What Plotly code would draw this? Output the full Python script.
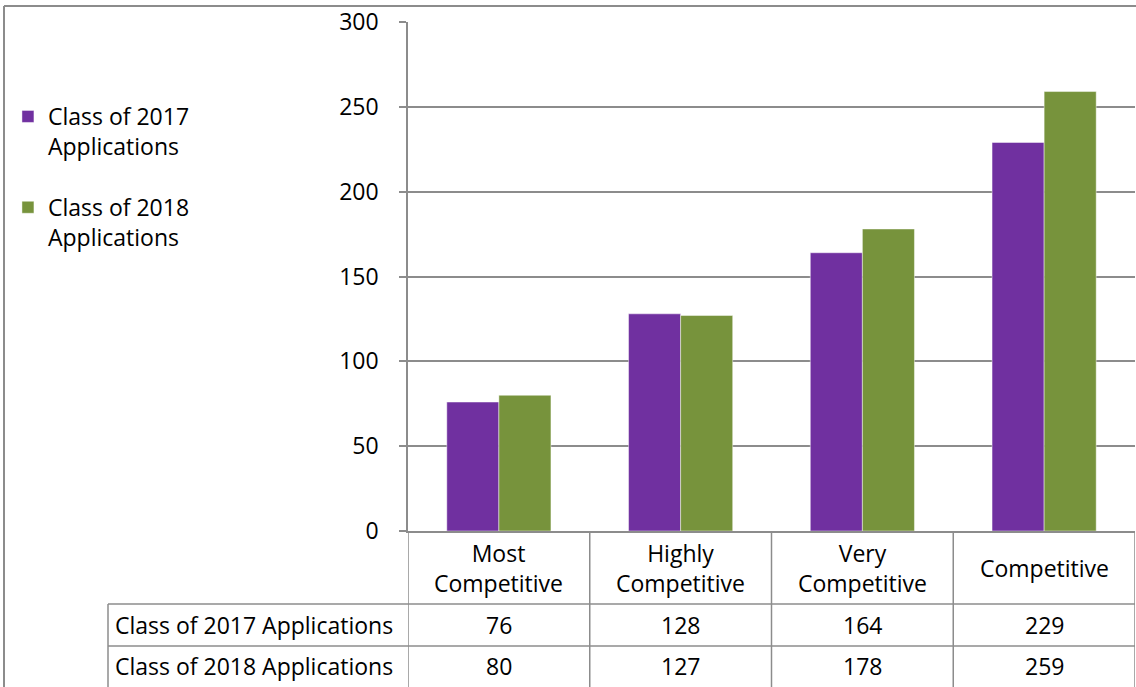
import plotly.graph_objects as go

# ---- data ----
categories = ["Most Competitive", "Highly Competitive", "Very Competitive", "Competitive"]
category_labels = ["Most<br>Competitive", "Highly<br>Competitive", "Very<br>Competitive", "Competitive"]
series_names = ["Class of 2017 Applications", "Class of 2018 Applications"]
legend_names = ["Class of 2017<br>Applications", "Class of 2018<br>Applications"]
apps_2017 = [76, 128, 164, 229]
apps_2018 = [80, 127, 178, 259]
y_ticks = [0, 50, 100, 150, 200, 250, 300]

# ---- style ----
W, H = 1136, 687
L, R, T, B = 408, 1, 22, 156
PW, PH = W - L - R, H - T - B
FONT = "Open Sans"
FS = 23
PURPLE = "#7030A0"
GREEN = "#77933C"
GRID = "#8c8c8c"
LINE_W = 1.5


def px_to_py(p):
    return (H - B - p) / PH


def px_to_px_paper(p):
    return (p - L) / PW


fig = go.Figure()
series = [apps_2017, apps_2018]
colors = [PURPLE, GREEN]
for i, (vals, col) in enumerate(zip(series, colors)):
    fig.add_trace(go.Bar(
        x=categories, y=vals, name=legend_names[i], legendgroup=f"g{i}",
        marker=dict(color=col, line=dict(color="rgba(255,255,255,0.45)", width=1)),
        hoverinfo="x+y",
    ))

shapes = []
# outer chart frame (left + top)
shapes.append(dict(type="line", xref="paper", yref="paper",
                   x0=px_to_px_paper(4), x1=px_to_px_paper(W + 2),
                   y0=px_to_py(6), y1=px_to_py(6),
                   line=dict(color=GRID, width=2)))
shapes.append(dict(type="line", xref="paper", yref="paper",
                   x0=px_to_px_paper(4), x1=px_to_px_paper(4),
                   y0=px_to_py(6), y1=px_to_py(H + 2),
                   line=dict(color=GRID, width=2)))

# data table grid
n = len(categories)
for k in range(n + 1):
    shapes.append(dict(type="line", xref="x", yref="paper",
                       x0=k - 0.5, x1=k - 0.5, y0=0, y1=px_to_py(H + 2),
                       line=dict(color=GRID, width=LINE_W)))
for p in (604, 646):
    shapes.append(dict(type="line", xref="paper", yref="paper",
                       x0=px_to_px_paper(108), x1=1,
                       y0=px_to_py(p), y1=px_to_py(p),
                       line=dict(color=GRID, width=LINE_W)))
shapes.append(dict(type="line", xref="paper", yref="paper",
                   x0=px_to_px_paper(108), x1=px_to_px_paper(108),
                   y0=px_to_py(604), y1=px_to_py(H + 2),
                   line=dict(color=GRID, width=LINE_W)))

annotations = []
for k, lab in enumerate(category_labels):
    annotations.append(dict(x=k, y=px_to_py(568), xref="x", yref="paper",
                            text=lab, showarrow=False, xanchor="center", yanchor="middle",
                            font=dict(family=FONT, size=FS, color="black")))
row_centers = [625, 666]
for r, (name, vals) in enumerate(zip(series_names, series)):
    annotations.append(dict(x=px_to_px_paper(113), y=px_to_py(row_centers[r]),
                            xref="paper", yref="paper", text=name, showarrow=False,
                            xanchor="left", yanchor="middle",
                            font=dict(family=FONT, size=FS, color="black")))
    for k, v in enumerate(vals):
        annotations.append(dict(x=k, y=px_to_py(row_centers[r]), xref="x", yref="paper",
                                text=str(v), showarrow=False, xanchor="center",
                                yanchor="middle",
                                font=dict(family=FONT, size=FS, color="black")))

fig.update_layout(
    width=W, height=H,
    margin=dict(l=L, r=R, t=T, b=B, pad=0),
    paper_bgcolor="white", plot_bgcolor="white",
    font=dict(family=FONT, size=FS, color="black"),
    barmode="group", bargap=0.427, bargroupgap=0,
    showlegend=True,
    legend=dict(xref="container", yref="container", x=0.007, y=1 - 95 / H,
                xanchor="left", yanchor="top", valign="top",
                tracegroupgap=28, font=dict(family=FONT, size=FS, color="black"),
                bgcolor="rgba(0,0,0,0)", itemclick=False, itemdoubleclick=False),
    xaxis=dict(range=[-0.5, n - 0.5], showticklabels=False, showgrid=False,
               showline=True, linecolor=GRID, linewidth=LINE_W, ticks="",
               zeroline=False, fixedrange=True),
    yaxis=dict(range=[0, 300], tickvals=y_ticks, showgrid=True, gridcolor=GRID,
               gridwidth=LINE_W, showline=True, linecolor=GRID, linewidth=LINE_W,
               ticks="outside", ticklen=7, tickcolor=GRID, tickwidth=LINE_W,
               ticklabelstandoff=16, zeroline=False, fixedrange=True,
               tickfont=dict(family=FONT, size=FS, color="black")),
    shapes=shapes, annotations=annotations,
)

fig.write_html("out.html", config={"displayModeBar": False},
               post_script="document.body.style.margin='0';document.body.style.overflow='hidden';")
